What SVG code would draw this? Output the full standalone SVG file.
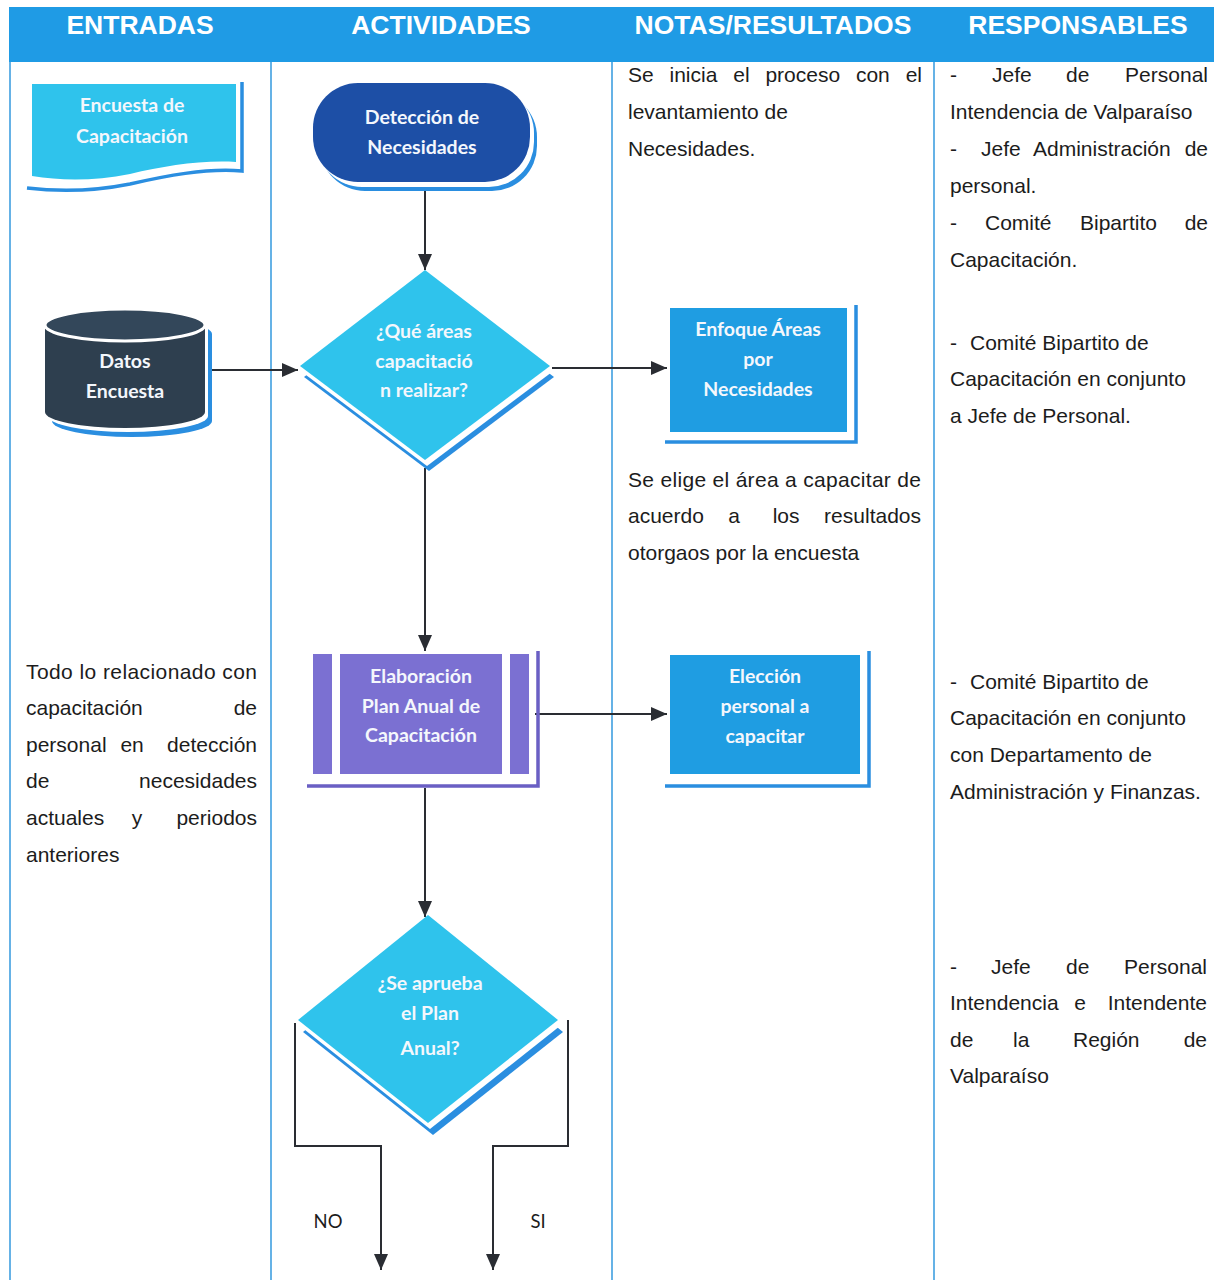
<svg xmlns="http://www.w3.org/2000/svg" width="1214" height="1280" viewBox="0 0 1214 1280">
<defs>
<style>
.hdr{font-family:"Liberation Sans",Arial,sans-serif;font-size:26.5px;font-weight:bold;fill:#ffffff;text-anchor:middle}
.body{font-family:"Liberation Sans",Arial,sans-serif;font-size:21px;fill:#1c1c1c}
.nt{font-family:Lato,"Open Sans",sans-serif;font-size:19.5px;font-weight:bold;fill:#f4f7fc;text-anchor:middle}
.lbl{font-family:Lato,"Open Sans",sans-serif;font-size:18.5px;fill:#1c1c1c;text-anchor:middle}
.col{stroke:#3f9fe0;stroke-width:1.6;fill:none}
.conn{stroke:#2a2d33;stroke-width:2;fill:none;marker-end:url(#arr)}
.shl{stroke:#2a8ee0;stroke-width:3.5;fill:none}
.cyan{fill:#2fc3ec}
.blue{fill:#1f9de2}
.sb{fill:#2a8ee0}
.sw{fill:#ffffff}
</style>
<marker id="arr" markerUnits="userSpaceOnUse" markerWidth="16" markerHeight="16" viewBox="0 0 16 14" refX="16" refY="7" orient="auto">
<path d="M0,0 L16,7 L0,14 Z" fill="#2a2d33"/>
</marker>
</defs>
<rect width="1214" height="1280" fill="#ffffff"/>
<g id="table">
<rect x="9" y="7" width="1205" height="55" fill="#1f9be5"/>
<text class="hdr" x="140" y="34">ENTRADAS</text>
<text class="hdr" x="441" y="34">ACTIVIDADES</text>
<text class="hdr" x="773" y="34">NOTAS/RESULTADOS</text>
<text class="hdr" x="1078" y="34">RESPONSABLES</text>
<line class="col" x1="10" y1="62" x2="10" y2="1280"/>
<line class="col" x1="271" y1="62" x2="271" y2="1280"/>
<line class="col" x1="612" y1="62" x2="612" y2="1280"/>
<line class="col" x1="934" y1="62" x2="934" y2="1280"/>
</g>
<g id="connectors">
<path class="conn" d="M425,183 V270"/>
<path class="conn" d="M207,370 H298"/>
<path class="conn" d="M552,368 H667"/>
<path class="conn" d="M425,468 V651"/>
<path class="conn" d="M535,714 H667"/>
<path class="conn" d="M425,788 V917"/>
<path class="conn" d="M295,1023 V1146 H381 V1270"/>
<path class="conn" d="M568,1020 V1146 H493 V1270"/>
<text class="lbl" x="328" y="1228">NO</text>
<text class="lbl" x="538" y="1228">SI</text>
</g>
<g id="encuesta">
<path class="shl" d="M242,82 V171 C205,168 165,176 130,184 C95,191 60,192 27,188"/>
<path class="cyan" d="M32,84 H236 V162 C200,160 165,166 130,174 C95,181 62,181 32,176 Z"/>
<text class="nt" x="132" y="112">Encuesta de</text>
<text class="nt" x="132" y="143">Capacitación</text>
</g>
<g id="deteccion">
<rect class="sb" x="320" y="92" width="217" height="99" rx="45"/>
<rect class="sw" x="317" y="88" width="217" height="99" rx="45"/>
<rect x="313" y="83" width="217" height="99" rx="45" fill="#1d4fa6"/>
<text class="nt" x="422" y="124">Detección de</text>
<text class="nt" x="422" y="154">Necesidades</text>
</g>
<g id="datos">
<path class="sb" transform="translate(7,9)" d="M45,325 A80,16 0 0 1 205,325 V412 A80,16 0 0 1 45,412 Z"/>
<path class="sw" transform="translate(3,4)" d="M45,325 A80,16 0 0 1 205,325 V412 A80,16 0 0 1 45,412 Z"/>
<path d="M45,325 A80,16 0 0 1 205,325 V412 A80,16 0 0 1 45,412 Z" fill="#2e3f4f"/>
<ellipse cx="125" cy="325" rx="80" ry="16" fill="#33475a" stroke="#ffffff" stroke-width="3"/>
<text class="nt" x="125" y="368">Datos</text>
<text class="nt" x="125" y="398">Encuesta</text>
</g>
<g id="decision1">
<path class="sb" transform="translate(4,11)" d="M425,270 L550,366 L425,460 L300,366 Z"/>
<path class="sw" transform="translate(2,6)" d="M425,270 L550,366 L425,460 L300,366 Z"/>
<path class="cyan" d="M425,270 L550,366 L425,460 L300,366 Z"/>
<text class="nt" x="424" y="338">¿Qué áreas</text>
<text class="nt" x="424" y="368">capacitació</text>
<text class="nt" x="424" y="397">n realizar?</text>
</g>
<g id="enfoque">
<path class="shl" d="M856,305 V442 H665"/>
<rect class="blue" x="670" y="308" width="177" height="124"/>
<text class="nt" x="758" y="336">Enfoque Áreas</text>
<text class="nt" x="758" y="366">por</text>
<text class="nt" x="758" y="396">Necesidades</text>
</g>
<g id="elaboracion">
<path d="M538,651 V786 H307" stroke="#6a5fc4" stroke-width="3.5" fill="none"/>
<rect x="313" y="654" width="216" height="120" fill="#7b70d2"/>
<rect x="332" y="654" width="8" height="120" fill="#ffffff"/>
<rect x="502" y="654" width="8" height="120" fill="#ffffff"/>
<text class="nt" x="421" y="683">Elaboración</text>
<text class="nt" x="421" y="713">Plan Anual de</text>
<text class="nt" x="421" y="742">Capacitación</text>
</g>
<g id="eleccion">
<path class="shl" d="M869,651 V786 H665"/>
<rect class="blue" x="670" y="655" width="190" height="119"/>
<text class="nt" x="765" y="683">Elección</text>
<text class="nt" x="765" y="713">personal a</text>
<text class="nt" x="765" y="743">capacitar</text>
</g>
<g id="decision2">
<path class="sb" transform="translate(5,12)" d="M428,915 L558,1020 L428,1123 L298,1020 Z"/>
<path class="sw" transform="translate(2,6)" d="M428,915 L558,1020 L428,1123 L298,1020 Z"/>
<path class="cyan" d="M428,915 L558,1020 L428,1123 L298,1020 Z"/>
<text class="nt" x="430" y="990">¿Se aprueba</text>
<text class="nt" x="430" y="1020">el Plan</text>
<text class="nt" x="430" y="1055">Anual?</text>
</g>
<g id="notas">
<text class="body" x="628" y="82" word-spacing="10">Se inicia el proceso con el</text>
<text class="body" x="628" y="119">levantamiento de</text>
<text class="body" x="628" y="156">Necesidades.</text>
<text class="body" x="628" y="487" textLength="293" lengthAdjust="spacing">Se elige el área a capacitar de</text>
<text class="body" x="628" y="523">acuerdo <tspan x="737" text-anchor="middle">a</tspan> <tspan x="789" text-anchor="middle">los</tspan> <tspan x="921" text-anchor="end">resultados</tspan></text>
<text class="body" x="628" y="560">otorgaos por la encuesta</text>
</g>
<g id="entradas">
<text class="body" x="26" y="679" textLength="231" lengthAdjust="spacing">Todo lo relacionado con</text>
<text class="body" x="26" y="715">capacitación <tspan x="257" text-anchor="end">de</tspan></text>
<text class="body" x="26" y="752">personal <tspan x="135" text-anchor="middle">en</tspan> <tspan x="257" text-anchor="end">detección</tspan></text>
<text class="body" x="26" y="788">de <tspan x="257" text-anchor="end">necesidades</tspan></text>
<text class="body" x="26" y="825">actuales <tspan x="140" text-anchor="middle">y</tspan> <tspan x="257" text-anchor="end">periodos</tspan></text>
<text class="body" x="26" y="862">anteriores</text>
</g>
<g id="responsables">
<text class="body" x="950" y="82">- <tspan x="992">Jefe</tspan> <tspan x="1066">de</tspan> <tspan x="1208" text-anchor="end">Personal</tspan></text>
<text class="body" x="950" y="119">Intendencia de Valparaíso</text>
<text class="body" x="950" y="156">- <tspan x="981">Jefe</tspan> <tspan x="1033">Administración</tspan> <tspan x="1208" text-anchor="end">de</tspan></text>
<text class="body" x="950" y="193">personal.</text>
<text class="body" x="950" y="230">- <tspan x="985">Comité</tspan> <tspan x="1080">Bipartito</tspan> <tspan x="1208" text-anchor="end">de</tspan></text>
<text class="body" x="950" y="267">Capacitación.</text>
<text class="body" x="950" y="350">- <tspan x="970">Comité Bipartito de</tspan></text>
<text class="body" x="950" y="386">Capacitación en conjunto</text>
<text class="body" x="950" y="423">a Jefe de Personal.</text>
<text class="body" x="950" y="689">- <tspan x="970">Comité Bipartito de</tspan></text>
<text class="body" x="950" y="725">Capacitación en conjunto</text>
<text class="body" x="950" y="762">con Departamento de</text>
<text class="body" x="950" y="799">Administración y Finanzas.</text>
<text class="body" x="950" y="974">- <tspan x="991">Jefe</tspan> <tspan x="1066">de</tspan> <tspan x="1207" text-anchor="end">Personal</tspan></text>
<text class="body" x="950" y="1010">Intendencia <tspan x="1083" text-anchor="middle">e</tspan> <tspan x="1207" text-anchor="end">Intendente</tspan></text>
<text class="body" x="950" y="1047">de <tspan x="1013">la</tspan> <tspan x="1073">Región</tspan> <tspan x="1207" text-anchor="end">de</tspan></text>
<text class="body" x="950" y="1083">Valparaíso</text>
</g>
</svg>
